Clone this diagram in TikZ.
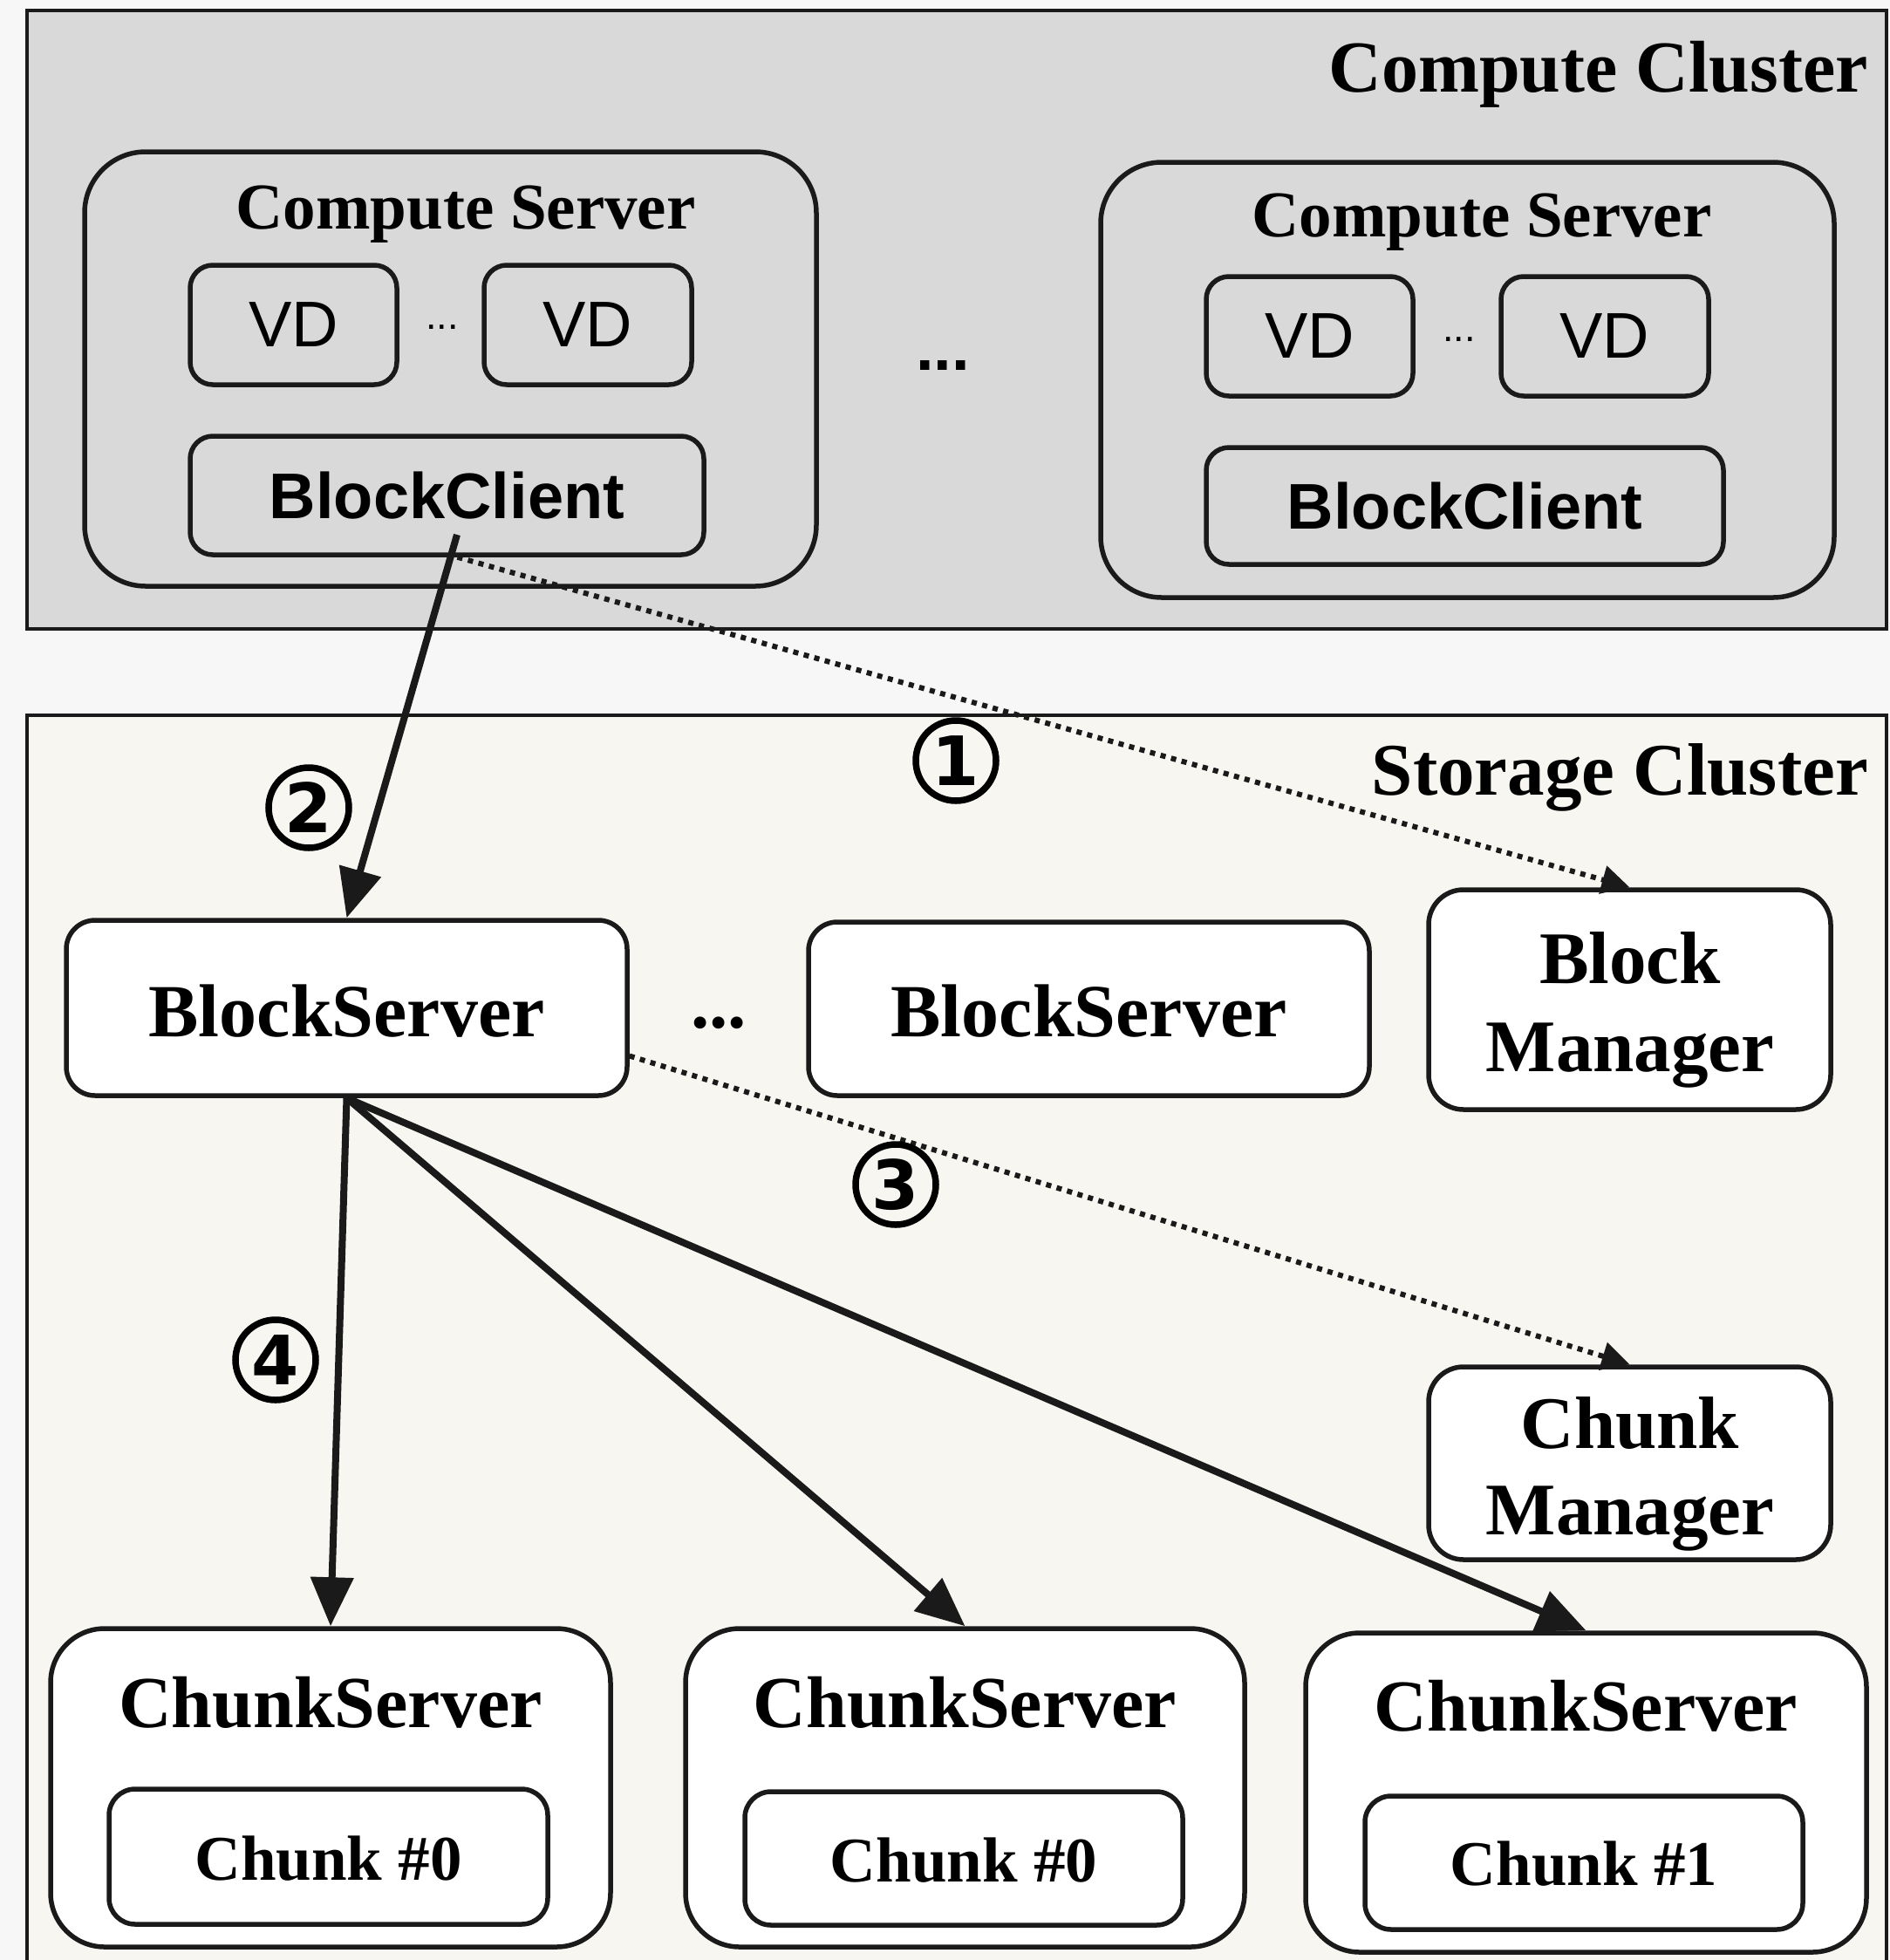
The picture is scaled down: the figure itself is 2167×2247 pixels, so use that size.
\documentclass[tikz,border=0pt]{standalone}
\usepackage{fontspec}
\setmainfont{Liberation Serif}
\newfontfamily\arialf{Liberation Sans}
\newfontfamily\dejavuf{DejaVu Sans}
\usetikzlibrary{arrows.meta}
\definecolor{ccfill}{HTML}{D9D9D9}
\definecolor{scfill}{HTML}{F8F6F0}
\definecolor{pagebg}{HTML}{F7F7F7}
\definecolor{ink}{HTML}{1A1A1A}
\newcommand\boxat[6]{\node[#6, minimum width={(#4-#2)*1pt}, minimum height={(#5-#3)*1pt}] (#1) at ({(#2+#4)/2},{(#3+#5)/2}) {};}
\begin{document}
\begin{tikzpicture}[x=1pt,y=-1pt,
  cluster/.style={draw=ink, line width=3.5pt, rectangle, inner sep=0pt},
  rbox/.style={draw=ink, line width=5.5pt, rectangle, rounded corners=#1, inner sep=0pt},
  wbox/.style={rbox=#1, fill=white},
  serift/.style={inner sep=0pt, anchor=base, font=\bfseries\fontsize{#1}{#1}\selectfont},
  sanst/.style={inner sep=0pt, anchor=base, font=\arialf\fontsize{#1}{#1}\selectfont},
  sansbt/.style={inner sep=0pt, anchor=base, font=\arialf\bfseries\fontsize{#1}{#1}\selectfont},
  num/.style={circle, draw=black, line width=7.5pt, minimum size=92pt, inner sep=0pt, font=\dejavuf\bfseries\fontsize{78}{78}\selectfont},
  solidarr/.style={draw=ink, line width=8pt, -{Triangle[length=56pt,width=48pt]}},
  dotarr/.style={draw=ink, line width=6pt, dash pattern=on 6pt off 6.5pt, -{Triangle[length=32pt,width=32pt]}}
]
\useasboundingbox (0,0) rectangle (2167,2247);
\clip (0,0) rectangle (2167,2247);
\fill[pagebg] (0,0) rectangle (2167,2247);

% clusters
\boxat{cc}{31}{12}{2163}{721}{cluster, fill=ccfill}
\boxat{sc}{31}{820}{2163}{2290}{cluster, fill=scfill}
\node[serift=84, anchor=base east] (tcc) at (2142,105) {Compute Cluster};
\node[serift=85, anchor=base east] (tsc) at (2142,911) {Storage Cluster};

% left compute server
\boxat{csl}{97}{174}{936}{672}{rbox=70pt}
\node[serift=75] (tcsl) at (534,262) {Compute Server};
\boxat{vdl1}{218}{304}{455}{441}{rbox=26pt}
\boxat{vdl2}{555}{304}{793}{441}{rbox=26pt}
\node[sanst=74, anchor=center] (tvdl1) at (vdl1.center) {VD};
\node[sanst=74, anchor=center] (tvdl2) at (vdl2.center) {VD};
\node[sanst=45] (dvdl) at (507,377) {...};
\boxat{bcl}{218}{500}{807}{636}{rbox=26pt}
\node[sansbt=74, anchor=center] (tbcl) at (bcl.center) {BlockClient};

% middle dots
\node[sansbt=74] (dcs) at (1081,424) {...};

% right compute server
\boxat{csr}{1262}{186}{2103}{685}{rbox=70pt}
\node[serift=75] (tcsr) at (1699,271) {Compute Server};
\boxat{vdr1}{1383}{317}{1620}{454}{rbox=26pt}
\boxat{vdr2}{1721}{317}{1959}{454}{rbox=26pt}
\node[sanst=74, anchor=center] (tvdr1) at (vdr1.center) {VD};
\node[sanst=74, anchor=center] (tvdr2) at (vdr2.center) {VD};
\node[sanst=45] (dvdr) at (1673,391) {...};
\boxat{bcr}{1383}{513}{1976}{647}{rbox=26pt}
\node[sansbt=74, anchor=center] (tbcr) at (bcr.center) {BlockClient};

% block servers
\boxat{bs1}{76}{1055}{719}{1256}{wbox=33pt}
\boxat{bs2}{927}{1057}{1570}{1256}{wbox=33pt}
\node[serift=86] (tbs1) at (397.5,1188) {BlockServer};
\node[serift=86] (tbs2) at (1248.5,1188) {BlockServer};
\node[serift=85] (dbs) at (824,1178) {...};

% managers
\boxat{bm}{1638}{1020}{2099}{1272}{wbox=40pt}
\node[serift=85] (tbm1) at (1869,1127) {Block};
\node[serift=85] (tbm2) at (1869,1228) {Manager};
\boxat{cm}{1638}{1567}{2099}{1788}{wbox=40pt}
\node[serift=85] (tcm1) at (1869,1660) {Chunk};
\node[serift=85] (tcm2) at (1869,1759) {Manager};

% chunk servers
\boxat{cs1}{58}{1867}{700}{2232}{wbox=62pt}
\boxat{cs2}{786}{1867}{1427}{2232}{wbox=62pt}
\boxat{cs3}{1497}{1872}{2140}{2238}{wbox=62pt}
\node[serift=84] (tcs1) at (379,1980) {ChunkServer};
\node[serift=84] (tcs2) at (1106.5,1980) {ChunkServer};
\node[serift=84] (tcs3) at (1818.5,1984) {ChunkServer};
\boxat{ch1}{125}{2051}{628}{2206}{wbox=30pt}
\boxat{ch2}{854}{2054}{1356}{2207}{wbox=30pt}
\boxat{ch3}{1565}{2059}{2067}{2212}{wbox=30pt}
\node[serift=73] (tch1) at (376.5,2155) {Chunk \#0};
\node[serift=73] (tch2) at (1105,2157) {Chunk \#0};
\node[serift=73] (tch3) at (1816,2161) {Chunk \#1};

% connectors
\draw[dotarr] ([xshift=12pt]bcl.south) -- (bm.north);
\draw[solidarr] ([shift={(11.5pt,-45pt)}]bcl.center) -- (bs1.north);
\draw[dotarr] ([yshift=-55pt]bs1.east) -- (cm.north);
\draw[solidarr] (bs1.south) -- (cs1.north);
\draw[solidarr] (bs1.south) -- (cs2.north);
\draw[solidarr] (bs1.south) -- (cs3.north);

% step numbers
\node[num] (n1) at (1096,872) {1};
\node[num] (n2) at (354,926) {2};
\node[num] (n3) at (1027,1358) {3};
\node[num] (n4) at (316,1559) {4};
\end{tikzpicture}
\end{document}
